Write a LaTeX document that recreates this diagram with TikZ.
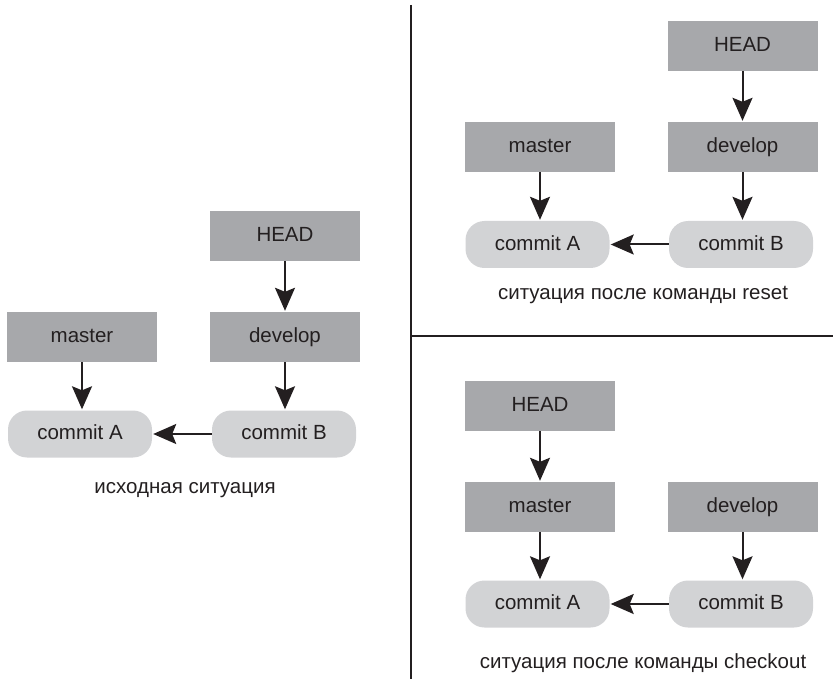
\documentclass[tikz,border=0pt]{standalone}
\usepackage{fontspec}
\setmainfont{Liberation Sans}
\usetikzlibrary{arrows.meta}
\definecolor{boxdark}{HTML}{A7A8AB}
\definecolor{boxlight}{HTML}{D2D3D5}
\definecolor{ink}{HTML}{231F20}
\tikzset{
  lbl/.style={text=ink, font=\fontsize{20.5}{24}\selectfont},
  ref/.style={lbl, fill=boxdark, minimum width=150pt, minimum height=50pt, inner sep=0pt, text height=14.7pt, text depth=3.3pt},
  cmt/.style={lbl, fill=boxlight, rounded corners=19pt, minimum width=144pt, minimum height=47pt, inner sep=0pt, text height=14.7pt, text depth=3.3pt},
  captext/.style={lbl},
  ptr/.style={draw=ink, line width=2pt, -{Stealth[length=23pt,width=20pt,inset=4pt]}, shorten >=1pt},
  sepline/.style={draw=ink, line width=2pt}
}
\begin{document}
\begin{tikzpicture}[x=1pt,y=-1pt]
\useasboundingbox (0,0) rectangle (833,679);
% separators
\coordinate (vtop) at (410.5,5);
\coordinate (vbot) at (410.5,679);
\coordinate (hl) at (410.5,336);
\coordinate (hr) at (833,336);
\draw[sepline] (vtop) -- (vbot);
\draw[sepline] (hl) -- (hr);

% left panel: initial situation
\node[ref] (h1) at (285,236) {HEAD};
\node[ref] (d1) at (285,337) {develop};
\node[ref] (m1) at (82,337) {master};
\node[cmt] (a1) at (80,434) {commit A};
\node[cmt] (b1) at (284,434) {commit B};
\node[captext] (c1) at (185,490) {исходная ситуация};
\draw[ptr] (h1.south) -- (d1.north);
\draw[ptr] (m1.south) -- (m1.south |- a1.north);
\draw[ptr] (d1.south) -- (d1.south |- b1.north);
\draw[ptr] (b1.west) -- (a1.east);

% top right: after reset
\node[ref] (h2) at (742.5,46) {HEAD};
\node[ref] (d2) at (742.5,147) {develop};
\node[ref] (m2) at (540,147) {master};
\node[cmt] (a2) at (537.5,244.5) {commit A};
\node[cmt] (b2) at (741,244.5) {commit B};
\node[captext] (c2) at (643,295) {ситуация после команды reset};
\draw[ptr] (h2.south) -- (d2.north);
\draw[ptr] (m2.south) -- (m2.south |- a2.north);
\draw[ptr] (d2.south) -- (d2.south |- b2.north);
\draw[ptr] (b2.west) -- (a2.east);

% bottom right: after checkout
\node[ref] (h3) at (540,406) {HEAD};
\node[ref] (m3) at (540,507) {master};
\node[ref] (d3) at (742.5,507) {develop};
\node[cmt] (a3) at (537.5,604) {commit A};
\node[cmt] (b3) at (741,604) {commit B};
\node[captext] (c3) at (643,663) {ситуация после команды checkout};
\draw[ptr] (h3.south) -- (m3.north);
\draw[ptr] (m3.south) -- (m3.south |- a3.north);
\draw[ptr] (d3.south) -- (d3.south |- b3.north);
\draw[ptr] (b3.west) -- (a3.east);
\end{tikzpicture}
\end{document}
